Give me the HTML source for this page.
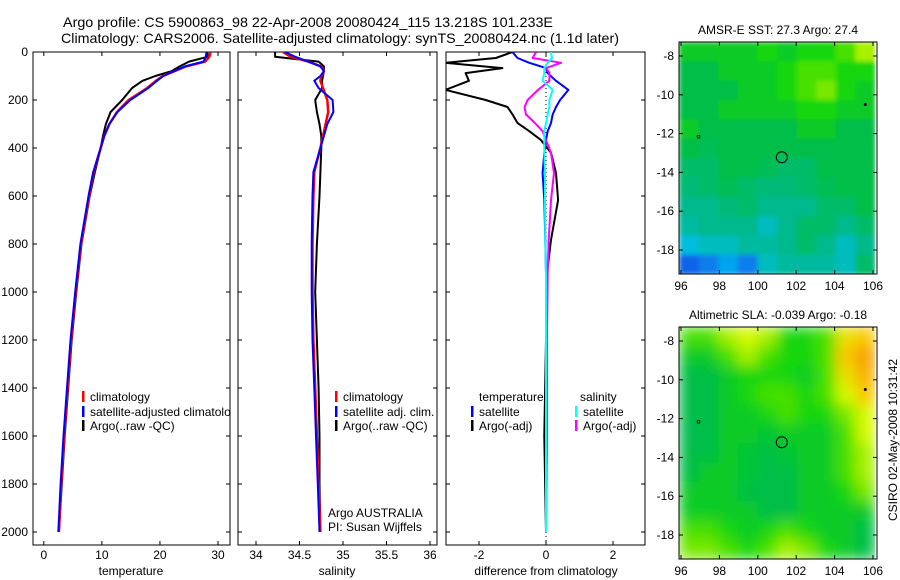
<!DOCTYPE html>
<html><head><meta charset="utf-8"><style>
html,body{margin:0;padding:0;background:#fff;}
svg{display:block;font-family:"Liberation Sans",sans-serif;}
text{font-size:12px;fill:#000;}
</style></head><body>
<svg id="chart" width="900" height="580" viewBox="0 0 900 580" xmlns="http://www.w3.org/2000/svg">
<defs>
<clipPath id="c1"><rect x="33" y="52" width="197" height="493"/></clipPath>
<clipPath id="c2"><rect x="238" y="52" width="199" height="493"/></clipPath>
<clipPath id="c3"><rect x="446" y="52" width="199" height="493"/></clipPath>
<clipPath id="cm1"><rect x="679" y="42" width="196" height="232"/></clipPath>
<clipPath id="cm2"><rect x="679" y="327" width="196" height="232"/></clipPath>
<filter id="blur1" x="0" y="0" width="1" height="1"><feGaussianBlur stdDeviation="2.5" edgeMode="duplicate"/></filter>
<filter id="blur2" x="0" y="0" width="1" height="1"><feGaussianBlur stdDeviation="7" edgeMode="duplicate"/></filter>
</defs>
<text x="63" y="27" textLength="490" lengthAdjust="spacingAndGlyphs" style="font-size:14px">Argo profile: CS 5900863_98 22-Apr-2008 20080424_115 13.218S 101.233E</text>
<text x="61" y="43" textLength="558" lengthAdjust="spacingAndGlyphs" style="font-size:14px">Climatology: CARS2006. Satellite-adjusted climatology: synTS_20080424.nc (1.1d later)</text>
<g id="g"></g>
</svg>
<script>
// ---- data ----
const depths = [0,20,40,60,80,100,120,150,200,250,300,350,400,500,600,800,1000,1200,1400,1600,1800,2000];
const tempClim = [28.7,28.5,27.8,24.5,22.5,20.5,19.3,17.8,14.6,12.6,11.3,10.4,9.8,8.6,7.8,6.4,5.5,4.7,4.1,3.5,3.0,2.6];
const tempSat  = [28.0,27.9,27.5,24.3,22.4,20.6,19.5,18.0,14.9,12.7,11.3,10.4,9.8,8.5,7.7,6.3,5.4,4.6,4.0,3.4,2.9,2.5];
const tempArgo = [28.2,28.2,25.0,23.4,22.0,19.2,17.0,15.2,13.5,11.5,10.7,10.2,9.8,8.8,7.9,6.5,5.6,4.8,4.2,3.6,3.1,2.6];
const salClim = [34.31,34.40,34.60,34.75,34.78,34.75,34.74,34.77,34.82,34.83,34.80,34.77,34.74,34.67,34.66,34.65,34.65,34.66,34.68,34.70,34.72,34.74];
const salSat  = [34.33,34.45,34.60,34.74,34.78,34.74,34.67,34.72,34.88,34.89,34.82,34.78,34.74,34.66,34.65,34.64,34.64,34.65,34.67,34.69,34.71,34.73];
const salArgo = [34.22,34.22,34.72,34.78,34.78,34.77,34.76,34.76,34.68,34.70,34.73,34.75,34.75,34.74,34.73,34.70,34.68,34.70,34.72,34.73,34.73,34.74];
const diffDepths = [0,25,45,67,88,120,158,200,229,260,296,330,367,420,504,617,783,921,1200,1600,2000];
const diffTempArgo = [-1,-1.5,-3,-1.3,-2.4,-2.3,-3,-1.8,-1.15,-1,-0.85,-0.5,-0.15,0.15,0.3,0.36,0.15,0.03,0,-0.05,0];
const diffSalArgo  = [-0.3,-0.4,0.45,0,0.1,0.1,-0.24,-0.55,-0.64,-0.6,-0.33,-0.1,0,0.15,0.24,0.15,0.08,0.05,0.03,0.03,0];
const diffTempSat  = [-1,-0.85,-0.5,0,0.05,0.3,0.67,0.42,0.3,0.2,0.15,0.05,0,-0.05,-0.1,-0.05,-0.02,0,0,0,0];
const diffSalSat   = [0.15,0.18,0.05,-0.05,-0.05,-0.1,0.2,0.1,0.1,0.05,0,-0.05,-0.05,-0.05,-0.03,-0.03,-0.02,0,0,0,0];
const depthTicks = [0,200,400,600,800,1000,1200,1400,1600,1800,2000];
const tempTicks = [0,10,20,30];
const salTicks = [34,34.5,35,35.5,36];
const diffTicks = [-2,0,2];
const latTicks = [-8,-10,-12,-14,-16,-18];
const lonTicks = [96,98,100,102,104,106];
const sstGrid = [
[3.5,3.5,3.5,3.5,4,3.5,4,4,4.5,5.5],
[3,3,3.5,3.5,3.5,4,4.5,4.5,4,4],
[3,3,3,3.5,3.5,4,4.5,5,4,3.5],
[3,3,3.5,3.5,3.5,3.5,4,4,3.5,3.5],
[3.5,3,3,3,3,3,3.5,3.5,3,3],
[3,2.8,3,3,3,3,3,3,3,3],
[2.5,2.5,3,3,2.8,2.5,2.5,3,3,3],
[2.3,2.5,2.8,2.5,2.3,2.3,2.5,2.8,3,3],
[2,2,2.3,2.5,2,2,2,2.5,2.5,3],
[1.8,2,2,2,1.5,2,2.5,2.5,2,2.5],
[1.2,1.5,1.5,1.8,1.8,2,2.5,2,1.5,2],
[0.3,0.5,0.8,0.5,1.5,1.8,1.8,1.8,1.5,2.5]];
const slaGrid = [
[4.5,4.5,5.5,6,5.5,4,4,4.5,6.5,7],
[3.5,3.5,4.5,5.5,4.5,4,4,4.5,7,7.8],
[3,3,3.5,4,4,4,3.5,4.5,6.5,7.5],
[3,3,3.5,4,4.5,4.5,4,4.5,6,7],
[3,3,3.5,3.5,4,4.5,4,4,5,6],
[2.8,3,3.5,3.5,3.3,3.5,3.5,3.5,4.5,6],
[3,3,3.5,3.3,3,3.3,3.5,3.5,4.5,5.5],
[3,3.5,3.5,3.3,3,3,3.5,3.5,4.5,5.5],
[3.5,3.5,3.5,3,3,3,3.5,3.5,4,5],
[3.5,3.5,3.5,3.5,3,3,3.5,3.5,3.5,3.5],
[4.5,4.5,4,3.5,4,4.5,4,3.5,3.5,3],
[5,5,4.5,4,4.5,5.5,5,4,3.5,3]];
const argoLon = 101.25, argoLat = -13.22;

// ---- helpers ----
const NS='http://www.w3.org/2000/svg';
const G=document.getElementById('g');
function el(tag,attrs,parent){const e=document.createElementNS(NS,tag);for(const k in attrs)e.setAttribute(k,attrs[k]);(parent||G).appendChild(e);return e;}
const yDepth = d => 52 + d*0.24;
function lin(d0,d1,r0,r1){return v=>r0+(v-d0)*(r1-r0)/(d1-d0);}
const panels=[
 {x0:33,x1:230,xs:lin(0,30,43.8,218),ticks:tempTicks,label:'temperature',lx:131,clip:'c1',name:'temperature'},
 {x0:238,x1:437,xs:lin(34,36,256,430),ticks:salTicks,label:'salinity',lx:337,clip:'c2',name:'salinity'},
 {x0:446,x1:645,xs:lin(-2,2,479,613),ticks:diffTicks,label:'difference from climatology',lx:546,clip:'c3',name:'difference'}];

panels.forEach((p,i)=>{
  const ax=el('g',{});
  
  
  const r=el('rect',{x:p.x0,y:52,width:p.x1-p.x0,height:493,fill:'none',stroke:'#000','stroke-width':1},ax);
  
  
  depthTicks.forEach(d=>{
    const y=yDepth(d);
    el('line',{x1:p.x0,x2:p.x0+4,y1:y,y2:y,stroke:'#000'},ax);
    el('line',{x1:p.x1-4,x2:p.x1,y1:y,y2:y,stroke:'#000'},ax);
    if(i===0){const t=el('text',{x:28,y:y+4,'text-anchor':'end'},ax);t.textContent=d;
      
      }
  });
  p.ticks.forEach(v=>{
    const x=p.xs(v);
    el('line',{x1:x,x2:x,y1:52,y2:56,stroke:'#000'},ax);
    el('line',{x1:x,x2:x,y1:541,y2:545,stroke:'#000'},ax);
    const t=el('text',{x:x,y:559,'text-anchor':'middle'},ax);t.textContent=v;
    
    
  });
  const t=el('text',{x:p.lx,y:575,'text-anchor':'middle'},ax);t.textContent=p.label;
  
  
});

function series(p,deps,vals,color,w,name){
  const pts=deps.map((d,k)=>p.xs(vals[k]).toFixed(1)+','+yDepth(d).toFixed(1)).join(' ');
  const l=el('polyline',{points:pts,fill:'none',stroke:color,'stroke-width':w,'clip-path':'url(#'+p.clip+')','stroke-linejoin':'round'});
  
  
}
// zero line in diff panel
const z=el('line',{x1:panels[2].xs(0),x2:panels[2].xs(0),y1:52,y2:545,stroke:'#000','stroke-dasharray':'1,3'});



series(panels[0],depths,tempArgo,'#000',2,'temp-argo-line');
series(panels[0],depths,tempClim,'#f00',2.5,'temp-climatology-line');
series(panels[0],depths,tempSat,'#00f',2,'temp-satellite-line');
series(panels[1],depths,salArgo,'#000',2,'sal-argo-line');
series(panels[1],depths,salClim,'#f00',2.5,'sal-climatology-line');
series(panels[1],depths,salSat,'#00f',2,'sal-satellite-line');
series(panels[2],diffDepths,diffTempArgo,'#000',2,'diff-temp-argo-line');
series(panels[2],diffDepths,diffTempSat,'#00f',2,'diff-temp-satellite-line');
series(panels[2],diffDepths,diffSalArgo,'#f0f',2,'diff-sal-argo-line');
series(panels[2],diffDepths,diffSalSat,'#0ff',2,'diff-sal-satellite-line');

function legend(x,y,color,txt,name,clip){
  const g=el('g',clip?{'clip-path':'url(#'+clip+')'}:{});
  
  
  if(color) el('rect',{x:x-1,y:y-6,width:2.5,height:11,fill:color},g);
  const t=el('text',{x:x+7,y:y+4},g);t.textContent=txt;
  
  
}
legend(83,397,'#f00','climatology','legend-climatology','c1');
legend(83,412,'#00f','satellite-adjusted climatology','legend-satellite-adjusted','c1');
legend(83,426,'#000','Argo(..raw -QC)','legend-argo-raw','c1');
legend(336,397,'#f00','climatology','legend-sal-climatology');
legend(336,412,'#00f','satellite adj. clim.','legend-sal-satellite');
legend(336,426,'#000','Argo(..raw -QC)','legend-sal-argo');
legend(472,397,null,'temperature','legend-temperature-header');
legend(573,397,null,'salinity','legend-salinity-header');
legend(472,412,'#00f','satellite','legend-diff-temp-satellite');
legend(472,426,'#000','Argo(-adj)','legend-diff-temp-argo');
legend(576,412,'#0ff','satellite','legend-diff-sal-satellite');
legend(576,426,'#f0f','Argo(-adj)','legend-diff-sal-argo');
[['Argo AUSTRALIA',517,'argo-australia-label'],['PI: Susan Wijffels',531,'pi-name-label']].forEach(a=>{
  const t=el('text',{x:328,y:a[1]});t.textContent=a[0];
  
  
});

// ---- maps ----
const stops=[[20,60,230],[0,190,240],[0,185,140],[0,190,70],[20,215,10],[120,232,0],[215,250,0],[250,200,0],[245,150,0]];
function col(v){const i=Math.max(0,Math.min(7.999,v));const a=Math.floor(i),f=i-a;const c=stops[a].map((s,k)=>Math.round(s+(stops[a+1][k]-s)*f));return 'rgb('+c.join(',')+')';}
function map(top,grid,title,name,clip,blur){
  const lx=lin(96,106,681,873), ly=lin(-8,-18,top+14,top+208);
  const g=el('g',{});
  
  
  const cg=el('g',{'clip-path':'url(#'+clip+')'},g);
  const hg=el('g',{filter:'url(#'+blur+')'},cg);
  const rows=grid.length, cols=grid[0].length;
  const lat0=-7.28, lat1=-19.24, lon0=95.9, lon1=106.1;
  grid.forEach((row,r)=>row.forEach((v,c)=>{
    const x=lx(lon0+c*(lon1-lon0)/cols), y=ly(lat0+r*(lat1-lat0)/rows);
    const w=lx(lon0+(c+1)*(lon1-lon0)/cols)-x, h=ly(lat0+(r+1)*(lat1-lat0)/rows)-y;
    const cell=el('rect',{x:x,y:y,width:w+0.6,height:h+0.6,fill:col(v)},hg);
    
    
  }));
  el('rect',{x:679,y:top,width:198,height:232,fill:'none',stroke:'#000'},g);
  latTicks.forEach(v=>{const y=ly(v);
    el('line',{x1:679,x2:683,y1:y,y2:y,stroke:'#000'},g);
    el('line',{x1:873,x2:877,y1:y,y2:y,stroke:'#000'},g);
    const t=el('text',{x:674,y:y+4,'text-anchor':'end'},g);t.textContent=v;
    
    });
  lonTicks.forEach(v=>{const x=lx(v);
    el('line',{x1:x,x2:x,y1:top,y2:top+4,stroke:'#000'},g);
    el('line',{x1:x,x2:x,y1:top+228,y2:top+232,stroke:'#000'},g);
    const t=el('text',{x:x,y:top+248,'text-anchor':'middle'},g);t.textContent=v;
    
    });
  const t=el('text',{x:778,y:top-8,'text-anchor':'middle'},g);t.textContent=title;
  
  
  const m=el('circle',{cx:lx(argoLon),cy:ly(argoLat),r:5.5,fill:'none',stroke:'#000'},g);
  
  
  el('circle',{cx:lx(105.6),cy:ly(-10.5),r:1.5,fill:'#000'},g);
  el('rect',{x:lx(96.9)-1,y:ly(-12.15)-1,width:2.5,height:2.5,fill:'none',stroke:'#000','stroke-width':0.8},g);
}
map(42,sstGrid,'AMSR-E SST: 27.3 Argo: 27.4','sst-map','cm1','blur1');
map(327,slaGrid,'Altimetric SLA: -0.039 Argo: -0.18','sla-map','cm2','blur2');
const ts=el('text',{x:897,y:440,'text-anchor':'middle',transform:'rotate(-90 897 440)'});
ts.textContent='CSIRO 02-May-2008 10:31:42';


</script>
</body></html>
